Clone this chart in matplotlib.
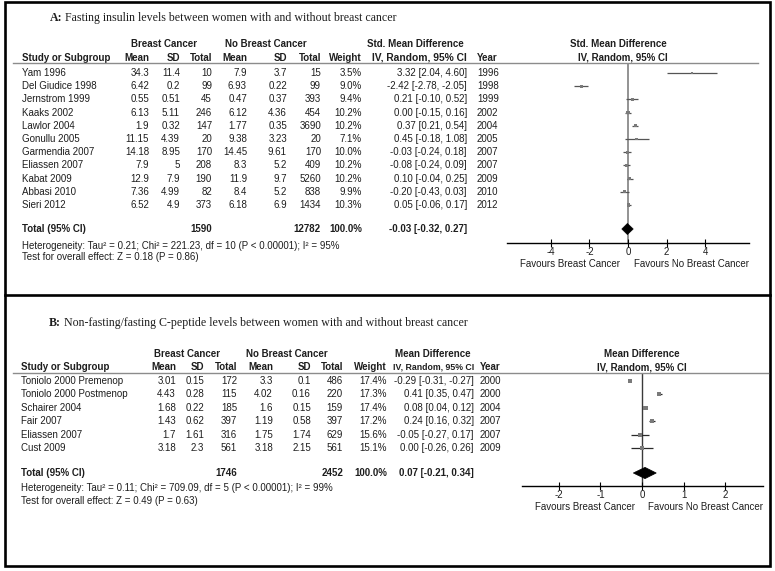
import numpy as np
import matplotlib
matplotlib.use("Agg")
import matplotlib.pyplot as plt
from matplotlib.transforms import blended_transform_factory
from matplotlib.patches import Polygon, Rectangle
from matplotlib.lines import Line2D

W, H, DPI = 775, 571, 100

# --- panel A: fasting insulin, std. mean difference ---
studies_a = ["Yam 1996", "Del Giudice 1998", "Jernstrom 1999", "Kaaks 2002", "Lawlor 2004",
             "Gonullu 2005", "Garmendia 2007", "Eliassen 2007", "Kabat 2009", "Abbasi 2010",
             "Sieri 2012"]
bc_mean_a = ["34.3", "6.42", "0.55", "6.13", "1.9", "11.15", "14.18", "7.9", "12.9", "7.36", "6.52"]
bc_sd_a = ["11.4", "0.2", "0.51", "5.11", "0.32", "4.39", "8.95", "5", "7.9", "4.99", "4.9"]
bc_n_a = [10, 99, 45, 246, 147, 20, 170, 208, 190, 82, 373]
nc_mean_a = ["7.9", "6.93", "0.47", "6.12", "1.77", "9.38", "14.45", "8.3", "11.9", "8.4", "6.18"]
nc_sd_a = ["3.7", "0.22", "0.37", "4.36", "0.35", "3.23", "9.61", "5.2", "9.7", "5.2", "6.9"]
nc_n_a = [15, 99, 393, 454, 3690, 20, 170, 409, 5260, 838, 1434]
weight_a = [3.5, 9.0, 9.4, 10.2, 10.2, 7.1, 10.0, 10.2, 10.2, 9.9, 10.3]
est_a = [3.32, -2.42, 0.21, 0.00, 0.37, 0.45, -0.03, -0.08, 0.10, -0.20, 0.05]
lo_a = [2.04, -2.78, -0.10, -0.15, 0.21, -0.18, -0.24, -0.24, -0.04, -0.43, -0.06]
hi_a = [4.60, -2.05, 0.52, 0.16, 0.54, 1.08, 0.18, 0.09, 0.25, 0.03, 0.17]
year_a = [1996, 1998, 1999, 2002, 2004, 2005, 2007, 2007, 2009, 2010, 2012]
total_a = (1590, 12782, -0.03, -0.32, 0.27)
het_a = "Heterogeneity: Tau\u00b2 = 0.21; Chi\u00b2 = 221.23, df = 10 (P < 0.00001); I\u00b2 = 95%"
test_a = "Test for overall effect: Z = 0.18 (P = 0.86)"
ticks_a = [-4, -2, 0, 2, 4]

# --- panel B: C-peptide, mean difference ---
studies_b = ["Toniolo 2000 Premenop", "Toniolo 2000 Postmenop", "Schairer 2004", "Fair 2007",
             "Eliassen 2007", "Cust 2009"]
bc_mean_b = ["3.01", "4.43", "1.68", "1.43", "1.7", "3.18"]
bc_sd_b = ["0.15", "0.28", "0.22", "0.62", "1.61", "2.3"]
bc_n_b = [172, 115, 185, 397, 316, 561]
nc_mean_b = ["3.3", "4.02", "1.6", "1.19", "1.75", "3.18"]
nc_sd_b = ["0.1", "0.16", "0.15", "0.58", "1.74", "2.15"]
nc_n_b = [486, 220, 159, 397, 629, 561]
weight_b = [17.4, 17.3, 17.4, 17.2, 15.6, 15.1]
est_b = [-0.29, 0.41, 0.08, 0.24, -0.05, 0.00]
lo_b = [-0.31, 0.35, 0.04, 0.16, -0.27, -0.26]
hi_b = [-0.27, 0.47, 0.12, 0.32, 0.17, 0.26]
year_b = [2000, 2000, 2004, 2007, 2007, 2009]
total_b = (1746, 2452, 0.07, -0.21, 0.34)
het_b = "Heterogeneity: Tau\u00b2 = 0.11; Chi\u00b2 = 709.09, df = 5 (P < 0.00001); I\u00b2 = 99%"
test_b = "Test for overall effect: Z = 0.49 (P = 0.63)"
ticks_b = [-2, -1, 0, 1, 2]

SANS = "Liberation Sans"
SERIF = "Liberation Serif"
FS = 7
TS = 8.55
INK = "#1e1e1e"


def fx(px):
    return px / W


def fy(py):
    return 1 - py / H


fig = plt.figure(figsize=(W / DPI, H / DPI), dpi=DPI)
renderer = fig.canvas.get_renderer()


def title(cx, cy, lead, rest):
    t1 = fig.text(0, fy(cy), lead, fontsize=TS, family=SERIF, fontweight="bold", va="center", color=INK)
    t2 = fig.text(0, fy(cy), " " + rest, fontsize=TS, family=SERIF, va="center", color=INK)
    w1 = t1.get_window_extent(renderer).width
    w2 = t2.get_window_extent(renderer).width
    x0 = cx - (w1 + w2) / 2
    t1.set_x(fx(x0))
    t2.set_x(fx(x0 + w1))


def fmt_ci(e, l, h):
    return "%.2f [%.2f, %.2f]" % (e, l, h)


def panel(lay, study, m1, s1, n1, m2, s2, n2, wt, est, lo, hi, yr, tot, het, test, ticks):
    n = len(study)
    top, bot, r0, dy = lay["top"], lay["axis"], lay["row0"], lay["dy"]
    ax = fig.add_axes([fx(lay["left"]), fy(bot), (lay["right"] - lay["left"]) / W, (bot - top) / H])
    ax.set_xlim(lay["xlim"])
    ax.set_ylim((bot - r0) / dy, (top - r0) / dy)
    row = lambda py: (py - r0) / dy
    tr = blended_transform_factory(fig.transFigure, ax.transData)
    c = lay["cols"]

    def put(px, yy, s, ha="right", bold=False, size=FS):
        ax.text(fx(px), yy, s, transform=tr, ha=ha, va="center", fontsize=size, family=SANS,
                fontweight="bold" if bold else "normal", color=INK, clip_on=False)

    # headers
    h1, h2 = row(lay["h1"]), row(lay["h2"])
    put(lay["grp1"], h1, "Breast Cancer", "center", True)
    put(lay["grp2"], h1, "No Breast Cancer", "center", True)
    put(lay["esthdr"], h1, lay["measure"], "center", True)
    put(lay["plothdr1"], h1, lay["measure"], "center", True)
    put(lay["plothdr2"], h2, "IV, Random, 95% CI", "center", True)
    put(c["study"], h2, "Study or Subgroup", "left", True)
    for key, lab in [("m1", "Mean"), ("s1", "SD"), ("n1", "Total"), ("m2", "Mean"),
                     ("s2", "SD"), ("n2", "Total"), ("wt", "Weight")]:
        put(c[key], h2, lab, "right", True)
    put(c["ci"], h2, "IV, Random, 95% CI", "right", True, lay["cihdr_fs"])
    put(c["yr"], h2, "Year", "left", True)
    fig.add_artist(Line2D([fx(lay["hl0"]), fx(lay["hl1"])], [fy(top), fy(top)],
                          transform=fig.transFigure, color="#8c8c8c", lw=1))

    # study rows
    for i in range(n):
        put(c["study"], i, study[i], "left")
        put(c["m1"], i, m1[i])
        put(c["s1"], i, s1[i])
        put(c["n1"], i, str(n1[i]))
        put(c["m2"], i, m2[i])
        put(c["s2"], i, s2[i])
        put(c["n2"], i, str(n2[i]))
        put(c["wt"], i, "%.1f%%" % wt[i])
        put(c["ci"], i, fmt_ci(est[i], lo[i], hi[i]))
        put(c["yr"], i, str(yr[i]), "left")

    # total row
    ty = row(lay["total"])
    put(c["study"], ty, "Total (95% CI)", "left", True)
    put(c["n1"], ty, str(tot[0]), bold=True)
    put(c["n2"], ty, str(tot[1]), bold=True)
    put(c["wt"], ty, "100.0%", bold=True)
    put(c["ci"], ty, fmt_ci(tot[2], tot[3], tot[4]), bold=True)
    put(c["study"], row(lay["het"]), het, "left")
    put(c["study"], row(lay["test"]), test, "left")

    # forest marks
    y = np.arange(n)
    ax.axvline(0, color=lay["zero_c"], lw=lay["zero_w"], zorder=1)
    for i in range(n):
        ax.plot([lo[i], hi[i]], [y[i], y[i]], color=lay["ci_c"], lw=0.9, solid_capstyle="butt", zorder=2)
    side_pt = lay["k"] * np.sqrt(np.array(wt)) * 0.72
    ax.scatter(est, y, marker="s", s=side_pt ** 2, color="#7a7a7a", linewidths=0, zorder=3)
    hh = 0.42
    ax.add_patch(Polygon([(tot[3], ty), (tot[2], ty - hh), (tot[4], ty), (tot[2], ty + hh)],
                         closed=True, facecolor="black", edgecolor="black", lw=0.5, zorder=4))

    for s in ("top", "left", "right"):
        ax.spines[s].set_visible(False)
    ax.spines["bottom"].set_color("black")
    ax.spines["bottom"].set_linewidth(1)
    ax.set_yticks([])
    ax.set_xticks(ticks)
    ax.set_xticklabels([str(t) for t in ticks])
    ax.tick_params(axis="x", direction="inout", length=6, width=0.8, labelsize=FS, pad=0,
                   colors="black", labelcolor=INK)
    for lbl in ax.get_xticklabels():
        lbl.set_family(SANS)
    ax.patch.set_alpha(0)
    for xf, lab in [(0.25, "Favours Breast Cancer"), (0.75, "Favours No Breast Cancer")]:
        ax.annotate(lab, xy=(xf, 0), xycoords="axes fraction", xytext=(2, -15),
                    textcoords="offset points", ha="center", va="center", fontsize=FS,
                    family=SANS, color=INK)


lay_a = dict(left=507, right=749, top=63, axis=243, row0=73, dy=13.2, total=229, het=246, test=257,
             h1=44, h2=58, xlim=(-6.27, 6.27), grp1=164, grp2=266, esthdr=415, plothdr1=618,
             plothdr2=623, measure="Std. Mean Difference", hl0=13, hl1=758, cihdr_fs=7.4,
             zero_c="#8a8a8a", zero_w=1.3, ci_c="#555555", k=0.95,
             cols=dict(study=22, m1=149, s1=180, n1=212, m2=247, s2=287, n2=321, wt=362, ci=467, yr=477))
lay_b = dict(left=522, right=763, top=373, axis=486, row0=381, dy=13.4, total=473, het=488, test=501,
             h1=354, h2=367, xlim=(-2.88, 2.9), grp1=187, grp2=287, esthdr=433, plothdr1=642,
             plothdr2=642, measure="Mean Difference", hl0=13, hl1=768, cihdr_fs=6.3,
             zero_c="#3a3a3a", zero_w=1.0, ci_c="#2a2a2a", k=1.0,
             cols=dict(study=21, m1=176, s1=204, n1=237, m2=273, s2=311, n2=343, wt=387, ci=474, yr=480))

title(223, 18, "A:", "Fasting insulin levels between women with and without breast cancer")
panel(lay_a, studies_a, bc_mean_a, bc_sd_a, bc_n_a, nc_mean_a, nc_sd_a, nc_n_a, weight_a,
      est_a, lo_a, hi_a, year_a, total_a, het_a, test_a, ticks_a)

title(258, 323, "B:", "Non-fasting/fasting C-peptide levels between women with and without breast cancer")
panel(lay_b, studies_b, bc_mean_b, bc_sd_b, bc_n_b, nc_mean_b, nc_sd_b, nc_n_b, weight_b,
      est_b, lo_b, hi_b, year_b, total_b, het_b, test_b, ticks_b)

# frame round both panels and the divider between them
fig.add_artist(Rectangle((fx(4.5), fy(565.5)), (770 - 4.5) / W, (565.5 - 1.5) / H,
                         transform=fig.transFigure, fill=False, ec="black", lw=1.9))
fig.add_artist(Line2D([fx(4.5), fx(770)], [fy(294.5), fy(294.5)], transform=fig.transFigure,
                      color="black", lw=1.9))

fig.savefig("out.png", dpi=DPI)
